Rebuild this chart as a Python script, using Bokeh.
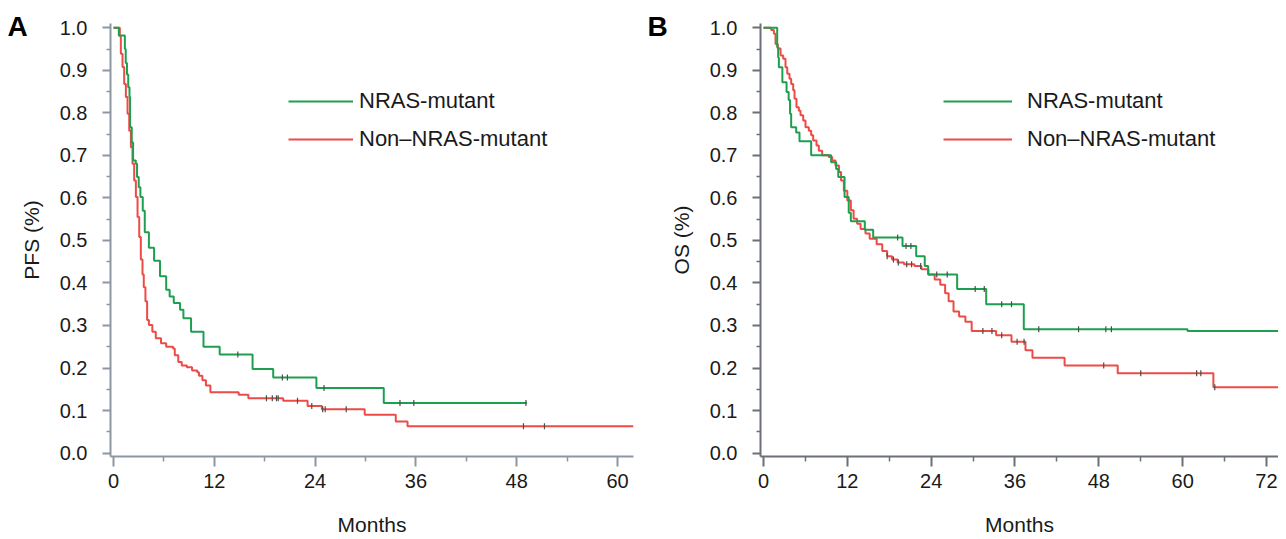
import numpy as np
from bokeh.plotting import figure
from bokeh.layouts import row
from bokeh.models import Range1d, FixedTicker, PrintfTickFormatter, Legend, LegendItem
from bokeh.embed import file_html
from bokeh.resources import INLINE

# ---------------- data ----------------
# Panel A: progression-free survival
pfs_nras_t = [0, 0.63, 1.35, 1.45, 1.6, 1.75, 1.9, 1.97, 2.17, 2.33, 2.65, 2.8, 3.0, 3.2, 3.48, 3.72,
              4.21, 4.83, 5.53, 6.27, 6.68, 7.17, 7.92, 8.32, 9.23, 10.71, 12.64, 16.55, 19.01,
              24.15, 32.17, 49.2]
pfs_nras_s = [1.0, 0.982, 0.95, 0.917, 0.89, 0.86, 0.837, 0.766, 0.73, 0.688, 0.68, 0.649, 0.625,
              0.602, 0.570, 0.519, 0.483, 0.452, 0.416, 0.384, 0.368, 0.353, 0.337, 0.317, 0.285,
              0.250, 0.232, 0.198, 0.178, 0.153, 0.118, 0.118]
pfs_nras_cens = [14.8, 20.1, 20.7, 25.06, 34.1, 35.75, 49.1]

pfs_non_t = [0, 0.75, 0.87, 1.07, 1.27, 1.47, 1.67, 1.87, 2.07, 2.26, 2.46, 2.66, 2.86, 3.06, 3.25,
             3.45, 3.6, 3.8, 4.0, 4.21, 4.62, 5.03, 5.65, 6.27, 7.09, 7.29, 7.71, 8.12, 8.73, 9.35,
             9.97, 10.17, 10.58, 11.0, 11.53, 14.9, 16.05, 20.2, 23.1, 24.8, 29.9, 33.6, 35.0, 61.9]
pfs_non_s = [1.0, 0.98, 0.939, 0.908, 0.868, 0.837, 0.798, 0.758, 0.719, 0.68, 0.641, 0.602, 0.555,
             0.508, 0.455, 0.42, 0.39, 0.357, 0.313, 0.301, 0.285, 0.27, 0.258, 0.25, 0.246, 0.23,
             0.214, 0.206, 0.202, 0.194, 0.19, 0.182, 0.171, 0.159, 0.143, 0.137, 0.129, 0.123,
             0.111, 0.103, 0.09, 0.074, 0.063, 0.063]
pfs_non_cens = [18.2, 18.9, 19.4, 19.6, 21.9, 23.6, 24.9, 25.2, 27.7, 48.8, 51.3]

# Panel B: overall survival
os_nras_t = [0, 1.96, 2.1, 2.2, 2.7, 3.3, 3.6, 3.8, 3.96, 4.68, 5.15, 6.82, 9.68, 10.4, 10.7, 11.6,
             12.2, 12.5, 14.5, 15.7, 19.9, 21.86, 23.08, 23.57, 27.72, 31.88, 37.26, 60.7, 73.7]
os_nras_s = [1.0, 0.954, 0.93, 0.907, 0.872, 0.849, 0.83, 0.798, 0.766, 0.754, 0.733, 0.70, 0.684,
             0.668, 0.649, 0.602, 0.565, 0.545, 0.525, 0.507, 0.487, 0.463, 0.44, 0.420, 0.386,
             0.350, 0.291, 0.287, 0.287]
os_nras_cens = [19.2, 20.4, 21.1, 24.8, 26.3, 30.3, 31.6, 34.1, 35.5, 39.4, 45.1, 49.0, 49.8]

os_non_t = [0, 1.1, 1.49, 1.72, 2.05, 2.44, 2.82, 3.15, 3.4, 3.72, 3.96, 4.25, 4.44, 4.72, 5.06, 5.3,
            5.68, 6.01, 6.49, 6.82, 7.11, 7.59, 7.92, 8.4, 9.35, 9.83, 10.3, 10.8, 11.1, 11.5, 12.0,
            12.5, 12.9, 13.4, 13.9, 14.6, 15.2, 16.2, 17.0, 17.7, 18.4, 19.2, 20.1, 21.6, 22.6, 23.6,
            24.5, 25.3, 26.0, 26.5, 27.2, 28.0, 28.9, 29.8, 33.3, 35.5, 37.5, 38.5, 43.1, 50.7, 64.4,
            73.7]
os_non_s = [1.0, 0.995, 0.986, 0.962, 0.951, 0.935, 0.927, 0.907, 0.892, 0.88, 0.868, 0.853, 0.833,
            0.813, 0.805, 0.794, 0.782, 0.766, 0.758, 0.747, 0.735, 0.723, 0.711, 0.70, 0.696, 0.688,
            0.676, 0.661, 0.641, 0.617, 0.594, 0.571, 0.551, 0.539, 0.527, 0.516, 0.504, 0.491,
            0.475, 0.463, 0.455, 0.448, 0.444, 0.440, 0.432, 0.420, 0.408, 0.396, 0.376, 0.357,
            0.333, 0.321, 0.309, 0.287, 0.277, 0.262, 0.242, 0.224, 0.206, 0.188, 0.155, 0.155]
os_non_cens = [17.7, 18.6, 19.3, 20.5, 21.2, 22.5, 31.4, 32.7, 34.1, 36.3, 37.3, 48.7, 54.0, 62.0,
               62.6, 64.6]

y_ticks = [0.0, 0.1, 0.2, 0.3, 0.4, 0.5, 0.6, 0.7, 0.8, 0.9, 1.0]
y_minor = [0.05, 0.15, 0.25, 0.35, 0.45, 0.55, 0.65, 0.75, 0.85, 0.95]
xa_ticks = [0, 12, 24, 36, 48, 60]
xa_minor = [6, 18, 30, 42, 54]
xb_ticks = [0, 12, 24, 36, 48, 60, 72]
xb_minor = [6, 18, 30, 42, 54, 66]

labels = ["NRAS-mutant", "Non\u2013NRAS-mutant"]

FONT = "Liberation Sans"
GREEN = "#1e9f50"
RED = "#ec4b46"
CENS = "#4d4d4d"
TXT = "#1a1a1a"


def censor_y(times, surv, ct):
    idx = np.searchsorted(np.asarray(times), np.asarray(ct), side="right") - 1
    return list(np.asarray(surv)[idx])


def panel(letter, letter_dx, ylabel, xr, xticks, xminor, green, red, axis_color, W, left, right,
          leg_x, glyph_w, standoff):
    p = figure(width=W, height=538, x_range=Range1d(*xr), y_range=Range1d(-0.008, 1.010),
               output_backend="svg", toolbar_location=None, title=letter,
               min_border_left=left, min_border_right=right, min_border_top=23,
               min_border_bottom=82)
    p.outline_line_color = None
    p.grid.visible = False
    p.background_fill_color = "white"

    # panel letter, carried by the plot title and pulled down beside the y axis
    p.title.align = "left"
    p.title.offset = letter_dx
    p.title.standoff = -36
    p.title.vertical_align = "bottom"
    p.title.text_font = FONT
    p.title.text_font_size = "28px"
    p.title.text_font_style = "bold"
    p.title.text_color = "black"

    rt, rs, rc = red
    gt, gs, gc = green
    r = p.step(rt, rs, mode="after", line_color=RED, line_width=2)
    p.scatter(rc, censor_y(rt, rs, rc), marker="dash", angle=np.pi / 2, size=6,
              line_color=CENS, line_width=1.2)
    g = p.step(gt, gs, mode="after", line_color=GREEN, line_width=2)
    p.scatter(gc, censor_y(gt, gs, gc), marker="dash", angle=np.pi / 2, size=6,
              line_color=CENS, line_width=1.2)

    xa = p.xaxis[0]
    xa.ticker = FixedTicker(ticks=xticks, minor_ticks=xminor)
    xa.major_tick_out = 10
    xa.minor_tick_out = 5
    xa.major_label_standoff = 7
    xa.axis_label = "Months"
    xa.axis_label_standoff = 22

    ya = p.yaxis[0]
    ya.ticker = FixedTicker(ticks=y_ticks, minor_ticks=y_minor)
    ya.formatter = PrintfTickFormatter(format="%.1f")
    ya.major_tick_out = 8
    ya.minor_tick_out = 4
    ya.major_label_standoff = 15
    ya.axis_label = ylabel
    ya.axis_label_standoff = 14

    for ax in (xa, ya):
        ax.major_tick_in = 0
        ax.minor_tick_in = 0
        ax.axis_line_color = axis_color
        ax.axis_line_width = 2
        ax.major_tick_line_color = axis_color
        ax.major_tick_line_width = 2
        ax.minor_tick_line_color = axis_color
        ax.minor_tick_line_width = 1.5
        ax.major_label_text_font = FONT
        ax.major_label_text_font_size = "20px"
        ax.major_label_text_color = TXT
        ax.axis_label_text_font = FONT
        ax.axis_label_text_font_size = "21px"
        ax.axis_label_text_font_style = "normal"
        ax.axis_label_text_color = TXT

    leg = Legend(items=[LegendItem(label=labels[0], renderers=[g]),
                        LegendItem(label=labels[1], renderers=[r])],
                 location=(leg_x, 304), padding=0, margin=0, spacing=12,
                 glyph_width=glyph_w, glyph_height=24, label_height=24,
                 label_standoff=standoff, border_line_color=None,
                 background_fill_alpha=0)
    leg.label_text_font = FONT
    leg.label_text_font_size = "22px"
    leg.label_text_color = TXT
    p.add_layout(leg)
    return p


pa = panel("A", -103, "PFS (%)", (-0.36, 61.9), xa_ticks, xa_minor,
           (pfs_nras_t, pfs_nras_s, pfs_nras_cens), (pfs_non_t, pfs_non_s, pfs_non_cens),
           "#8d97a3", 640, 110, 7, 178, 65, 6)
pb = panel("B", -113, "OS (%)", (-0.43, 73.72), xb_ticks, xb_minor,
           (os_nras_t, os_nras_s, os_nras_cens), (os_non_t, os_non_s, os_non_cens),
           "#6b7177", 638, 120, 0, 183, 69, 15)

layout = row(pa, pb)
open("out.html", "w").write(file_html(layout, INLINE))
